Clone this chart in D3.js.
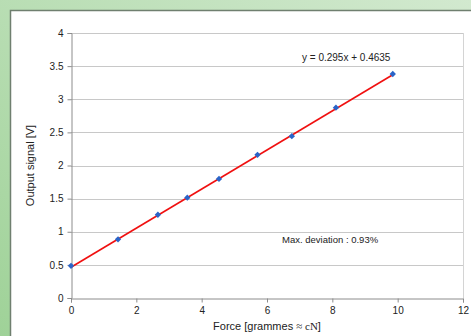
<!DOCTYPE html>
<html>
<head>
<meta charset="utf-8">
<script src="https://cdn.jsdelivr.net/npm/d3@7"></script>
<style>
  html, body { margin: 0; padding: 0; background: #fff; }
  svg { display: block; }
</style>
</head>
<body>
<div id="chart"></div>
<script>
// Force readings [cN] and output signal [V]
const forces = [0, 1.44, 2.66, 3.56, 4.53, 5.71, 6.76, 8.11, 9.85];
const signals = [0.485, 0.886, 1.257, 1.514, 1.797, 2.161, 2.443, 2.873, 3.381];
const xTicks = [0, 2, 4, 6, 8, 10, 12];
const yTicks = [0, 0.5, 1, 1.5, 2, 2.5, 3, 3.5, 4];
const slope = 0.295;
const intercept = 0.4635;

const width = 471, height = 336;
const margin = { top: 33, right: 8, bottom: 38, left: 71 };

const svg = d3.select("#chart").append("svg")
  .attr("width", width)
  .attr("height", height);

// green frame
const defs = svg.append("defs");
const grad = defs.append("linearGradient").attr("id", "bg")
  .attr("x1", "0").attr("y1", "1").attr("x2", "1").attr("y2", "0");
grad.append("stop").attr("offset", "0").attr("stop-color", "#9fd298");
grad.append("stop").attr("offset", "1").attr("stop-color", "#d2e9cf");
svg.append("rect").attr("width", width).attr("height", height).attr("fill", "url(#bg)");
svg.append("rect").attr("x", 11).attr("y", 11).attr("width", width - 11).attr("height", height - 11).attr("fill", "#fff");
svg.append("path").attr("d", `M10.5,${height}V10.5H${width}`)
  .attr("fill", "none").attr("stroke", "#6f7f6f").attr("stroke-width", 1.5);

const x = d3.scaleLinear().domain([0, 12]).range([margin.left, width - margin.right]);
const y = d3.scaleLinear().domain([0, 4]).range([height - margin.bottom, margin.top]);

// grid
svg.append("g").selectAll("line")
  .data(yTicks.filter(d => d > 0))
  .join("line")
  .attr("x1", x(0)).attr("x2", x(12))
  .attr("y1", d => Math.round(y(d)) + 0.5).attr("y2", d => Math.round(y(d)) + 0.5)
  .attr("stroke", "#c8c8c8");
svg.append("line")
  .attr("x1", Math.round(x(12)) + 0.5).attr("x2", Math.round(x(12)) + 0.5)
  .attr("y1", y(4)).attr("y2", y(0))
  .attr("stroke", "#d4d4d4");

const tickFont = "Liberation Sans, Arial, sans-serif";

const yAxis = svg.append("g")
  .attr("transform", `translate(${Math.round(x(0)) + 0.5},0)`)
  .call(d3.axisLeft(y).tickValues(yTicks).tickSize(4).tickPadding(4).tickFormat(d3.format("")));
yAxis.select(".domain").attr("stroke", "#8c8c8c");
yAxis.selectAll(".tick line").attr("stroke", "#8c8c8c");
yAxis.selectAll("text").attr("font-family", tickFont).attr("font-size", 10).attr("fill", "#222");

const xAxis = svg.append("g")
  .attr("transform", `translate(0,${Math.round(y(0)) + 0.5})`)
  .call(d3.axisBottom(x).tickValues(xTicks).tickSize(4).tickPadding(4).tickFormat(d3.format("")));
xAxis.select(".domain").attr("stroke", "#8c8c8c");
xAxis.selectAll(".tick line").attr("stroke", "#8c8c8c");
xAxis.selectAll("text").attr("font-family", tickFont).attr("font-size", 10).attr("fill", "#222");

// trend line
const xMax = d3.max(forces);
svg.append("line")
  .attr("x1", x(0)).attr("y1", y(intercept))
  .attr("x2", x(xMax)).attr("y2", y(slope * xMax + intercept))
  .attr("stroke", "#f01010").attr("stroke-width", 1.6);

// markers (Excel-style diamonds)
svg.append("g").selectAll("path")
  .data(forces.map((f, i) => [f, signals[i]]))
  .join("path")
  .attr("d", d3.symbol(d3.symbolSquare, 20))
  .attr("transform", d => `translate(${x(d[0])},${y(d[1])}) rotate(45)`)
  .attr("fill", "#2a64c8");

// labels
svg.append("text")
  .attr("x", 302).attr("y", 61)
  .attr("font-family", tickFont).attr("font-size", 10).attr("fill", "#222")
  .text(`y = ${slope}x + ${intercept}`);

svg.append("text")
  .attr("x", 282).attr("y", 243)
  .attr("font-family", tickFont).attr("font-size", 9.5).attr("fill", "#222")
  .text("Max. deviation : 0.93%");

const xTitle = svg.append("text")
  .attr("x", (x(0) + x(12)) / 2).attr("y", 330)
  .attr("text-anchor", "middle")
  .attr("font-family", tickFont).attr("font-size", 11).attr("fill", "#222");
xTitle.append("tspan").text("Force [grammes ");
xTitle.append("tspan").attr("font-family", "Liberation Serif, serif").text("≈ cN");
xTitle.append("tspan").text("]");

svg.append("text")
  .attr("transform", `translate(34,${(y(0) + y(4)) / 2}) rotate(-90)`)
  .attr("text-anchor", "middle")
  .attr("font-family", tickFont).attr("font-size", 11).attr("fill", "#222")
  .text("Output signal [V]");
</script>
</body>
</html>
